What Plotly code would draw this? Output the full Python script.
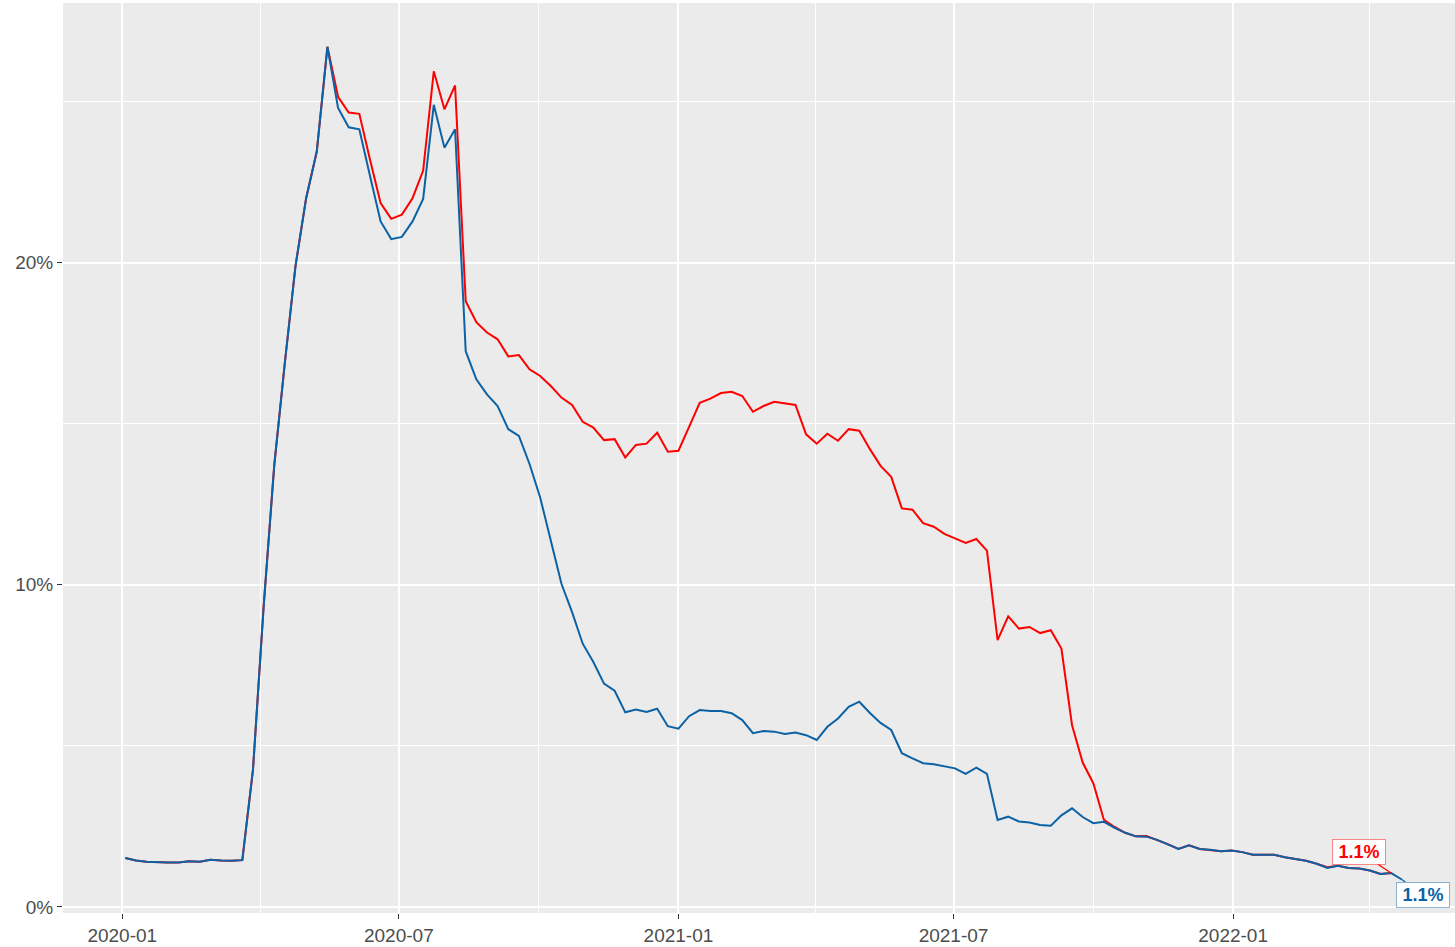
# Weekly share chart, two series - ggplot look rebuilt in plotly

import pandas as pd
import plotly.graph_objects as go

red_colour = "#FF0000"
blue_colour = "#0B62A4"

# weekly dates (Fridays) from 2020-01-03
blue_dates = pd.date_range("2020-01-03", periods=121, freq="7D")
red_dates = blue_dates[:120]

blue_values = [
    1.52, 1.44, 1.40, 1.38, 1.38, 1.38, 1.42, 1.40, 1.46, 1.44, 1.43, 1.45,
    4.25, 9.3, 13.7, 16.9, 19.9, 22.0, 23.45, 26.7,
    24.8, 24.2, 24.14, 22.7, 21.28, 20.73, 20.8, 21.28, 21.98, 24.9, 23.57, 24.14,
    17.25, 16.38, 15.91, 15.55, 14.83, 14.62, 13.75, 12.71, 11.37, 10.03, 9.15, 8.17,
    7.60, 6.93, 6.71, 6.04, 6.13, 6.05, 6.15, 5.61, 5.53, 5.92, 6.11, 6.08, 6.08,
    6.01, 5.80, 5.39, 5.46, 5.44, 5.37, 5.41, 5.33, 5.18, 5.59, 5.85, 6.21,
    6.37, 6.02, 5.71, 5.49, 4.77, 4.61, 4.46, 4.43, 4.37, 4.30, 4.13, 4.32, 4.13,
    2.70, 2.80, 2.65, 2.62, 2.54, 2.52, 2.84, 3.06, 2.79, 2.60, 2.64, 2.45, 2.30,
    2.19, 2.18, 2.08, 1.95, 1.80, 1.91, 1.80, 1.77, 1.73, 1.75, 1.70, 1.62, 1.62,
    1.62, 1.54, 1.49, 1.43, 1.34, 1.21, 1.28, 1.21, 1.19, 1.13, 1.02, 1.05, 0.85,
]

red_values = [
    1.52, 1.44, 1.40, 1.38, 1.38, 1.38, 1.42, 1.40, 1.46, 1.44, 1.43, 1.45,
    4.25, 9.3, 13.7, 16.9, 19.9, 22.0, 23.45, 26.7,
    25.15, 24.66, 24.62, 23.2, 21.85, 21.36, 21.49, 22.0, 22.86, 25.94, 24.76, 25.5,
    18.80, 18.15, 17.83, 17.62, 17.09, 17.13, 16.69, 16.48, 16.17, 15.81, 15.58, 15.06,
    14.88, 14.49, 14.52, 13.95, 14.34, 14.38, 14.72, 14.13, 14.16, 14.90, 15.65, 15.78,
    15.95, 15.99, 15.86, 15.37, 15.55, 15.68, 15.62, 15.58, 14.67, 14.38, 14.69, 14.47,
    14.83, 14.78, 14.21, 13.69, 13.35, 12.37, 12.33, 11.91, 11.80, 11.58, 11.44, 11.30,
    11.42, 11.06, 8.28, 9.02, 8.64, 8.69, 8.50, 8.59, 8.02, 5.64, 4.48, 3.84, 2.70, 2.48,
    2.30, 2.19, 2.20, 2.08, 1.95, 1.80, 1.91, 1.80, 1.77, 1.73, 1.75, 1.70, 1.62, 1.62,
    1.62, 1.54, 1.49, 1.43, 1.34, 1.23, 1.28, 1.21, 1.19, 1.13, 1.02, 1.05,
]

end_labels = ["1.1%", "1.1%"]

x_ticks = ["2020-01-01", "2020-07-01", "2021-01-01", "2021-07-01", "2022-01-01"]
x_tick_text = ["2020-01", "2020-07", "2021-01", "2021-07", "2022-01"]
y_ticks = [0, 10, 20]
y_tick_text = ["0%", "10%", "20%"]

fig = go.Figure()
fig.add_trace(go.Scatter(x=red_dates, y=red_values, mode="lines",
                         line=dict(color=red_colour, width=2), showlegend=False))
fig.add_trace(go.Scatter(x=blue_dates, y=blue_values, mode="lines",
                         line=dict(color=blue_colour, width=2), showlegend=False))

# end-of-line labels (like ggrepel boxes)
fig.add_annotation(x=red_dates[-1], y=red_values[-1], text=f"<b>{end_labels[0]}</b>",
                   showarrow=True, arrowhead=0, arrowcolor=red_colour, arrowwidth=1.2,
                   ax=-32, ay=-21, font=dict(color=red_colour, size=18, family="Liberation Sans"),
                   bgcolor="white", bordercolor="rgba(255,0,0,0.45)", borderwidth=1,
                   borderpad=1, width=50, height=22)
fig.add_annotation(x=blue_dates[-1], y=blue_values[-1], text=f"<b>{end_labels[1]}</b>",
                   showarrow=True, arrowhead=0, arrowcolor=blue_colour, arrowwidth=1.2,
                   ax=21, ay=15, font=dict(color=blue_colour, size=18, family="Liberation Sans"),
                   bgcolor="white", bordercolor="rgba(11,98,164,0.45)", borderwidth=1,
                   borderpad=1, width=50, height=22)

fig.update_layout(
    width=1455, height=947,
    margin=dict(l=63, r=0, t=3, b=34, autoexpand=False),
    paper_bgcolor="white",
    plot_bgcolor="#EBEBEB",
    font=dict(family="Liberation Sans", size=19, color="#4D4D4D"),
    xaxis=dict(
        type="date",
        range=["2019-11-23", "2022-05-27"],
        tickvals=x_ticks, ticktext=x_tick_text,
        showgrid=True, gridcolor="white", gridwidth=1.8,
        ticks="outside", ticklen=5, tickcolor="#333333", tickwidth=1.2,
        minor=dict(dtick="M3", tick0="2020-01-01", showgrid=True,
                   gridcolor="white", gridwidth=0.8, ticks=""),
        zeroline=False, showline=False,
    ),
    yaxis=dict(
        range=[-0.19, 28.06],
        tickvals=y_ticks, ticktext=y_tick_text,
        showgrid=True, gridcolor="white", gridwidth=1.8,
        ticks="outside", ticklen=5, tickcolor="#333333", tickwidth=1.2,
        minor=dict(dtick=5, tick0=0, showgrid=True, gridcolor="white",
                   gridwidth=0.8, ticks=""),
        zeroline=False, showline=False,
    ),
)

# drop the default 8px page margin so the chart sits at the window corner
fig.write_html("out.html", config={"displayModeBar": False},
               post_script="document.body.style.margin = '0';")
